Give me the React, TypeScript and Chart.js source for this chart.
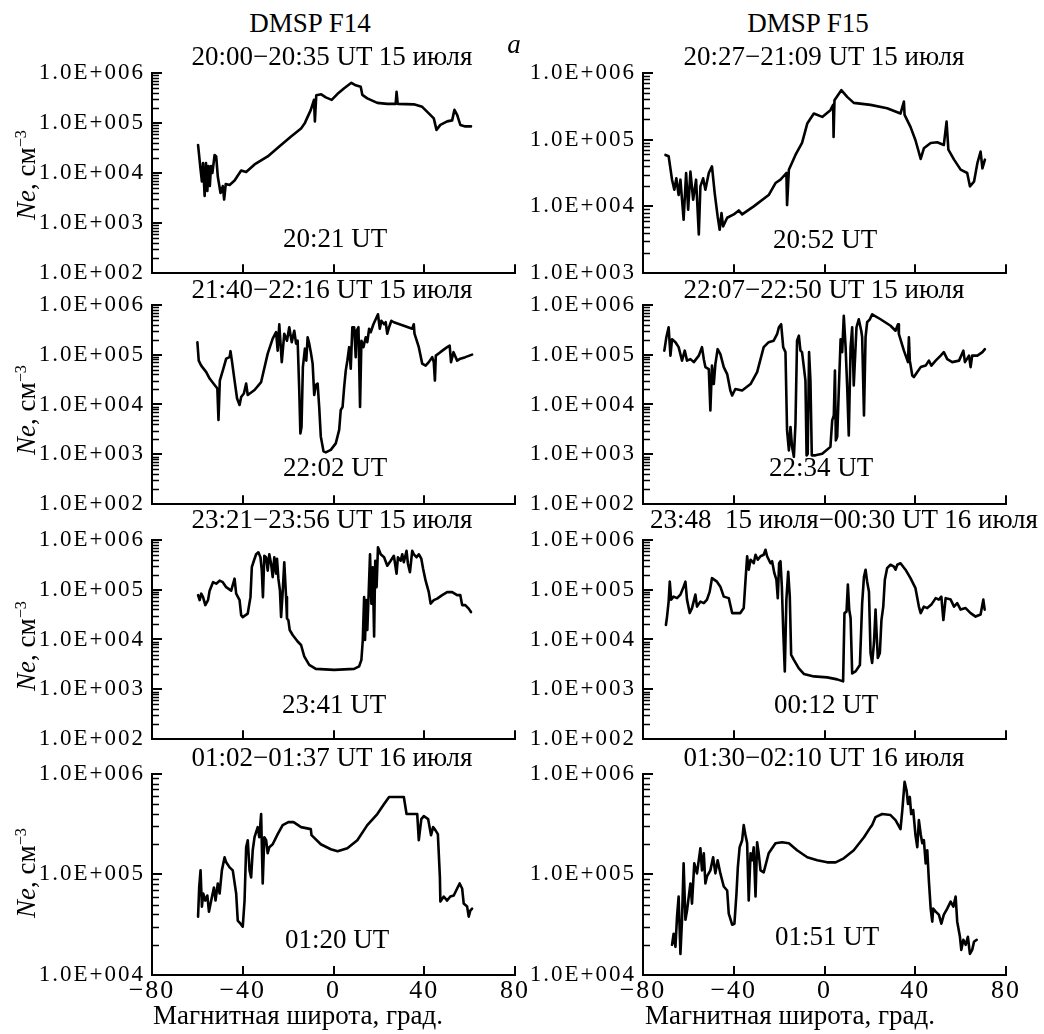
import React, { useEffect, useRef } from 'react';
import { Chart, registerables } from 'chart.js';

Chart.register(...registerables);

const FONT = '"Liberation Serif", "Times New Roman", serif';

// ---------- data: [magnetic latitude (deg), log10(Ne, cm^-3)] ----------
const f14Pass1 = [[-59.7,4.56],[-58.6,4.07],[-58.0,3.83],[-57.5,4.2],[-56.8,3.54],[-56.2,4.2],[-55.6,3.64],[-55.1,4.14],[-54.5,3.74],[-54.0,4.14],[-53.4,4.0],[-52.4,4.36],[-51.7,4.33],[-51.0,3.93],[-49.8,3.6],[-48.8,3.74],[-48.2,3.47],[-47.5,3.78],[-45.8,3.76],[-43.6,3.85],[-40.7,4.05],[-38.5,4.02],[-34.8,4.17],[-29.0,4.33],[-23.9,4.53],[-18.7,4.73],[-14.3,4.89],[-12.6,5.0],[-10.0,5.26],[-8.6,5.46],[-8.2,5.03],[-7.6,5.55],[-5.4,5.57],[-3.4,5.51],[-0.8,5.46],[1.8,5.58],[4.7,5.69],[7.9,5.80],[9.8,5.75],[12.0,5.72],[12.7,5.56],[14.9,5.49],[19.3,5.40],[23.7,5.38],[27.4,5.38],[27.8,5.62],[28.3,5.38],[35.4,5.37],[39.1,5.32],[42.0,5.19],[44.2,5.09],[45.4,4.86],[47.1,4.96],[50.1,5.03],[52.3,5.05],[53.3,5.26],[54.5,5.16],[55.9,4.96],[58.1,4.93],[60.6,4.93]];

const f15Pass1 = [[-70.1,4.77],[-68.7,4.75],[-67.2,4.40],[-66.2,4.25],[-65.3,4.42],[-64.3,4.17],[-63.5,4.40],[-62.1,3.80],[-61.0,4.50],[-60.1,3.95],[-59.1,4.52],[-57.9,4.10],[-56.6,4.40],[-55.4,3.58],[-54.7,4.30],[-53.5,4.42],[-52.5,4.25],[-51.0,4.50],[-49.6,4.60],[-48.4,4.20],[-47.1,3.85],[-46.2,3.65],[-45.4,3.90],[-44.7,3.70],[-42.9,3.83],[-40.0,3.88],[-37.8,3.94],[-36.3,3.88],[-31.2,4.00],[-24.6,4.17],[-21.6,4.35],[-19.4,4.40],[-16.8,4.50],[-16.5,4.02],[-15.7,4.55],[-12.8,4.77],[-9.9,4.95],[-7.6,5.24],[-4.7,5.39],[-1.0,5.34],[2.6,5.44],[3.8,5.52],[4.0,5.04],[4.4,5.59],[7.4,5.74],[10.0,5.64],[12.9,5.55],[20.3,5.52],[27.6,5.47],[33.5,5.39],[35.0,5.57],[35.3,5.37],[37.9,5.19],[40.1,4.99],[42.4,4.71],[43.8,4.87],[46.8,4.95],[49.7,4.96],[52.6,4.92],[53.8,5.27],[54.6,4.85],[57.1,4.70],[60.0,4.55],[62.9,4.50],[64.1,4.30],[65.9,4.37],[67.4,4.65],[68.8,4.82],[69.6,4.57],[70.7,4.70]];

const f14Pass2 = [[-60.0,5.25],[-59.4,4.88],[-58.3,4.78],[-56.1,4.65],[-54.6,4.52],[-52.4,4.39],[-51.2,4.32],[-50.7,3.69],[-50.1,4.48],[-48.8,4.68],[-47.3,4.92],[-45.8,4.95],[-45.4,5.07],[-44.7,4.85],[-43.6,4.48],[-42.5,4.12],[-41.4,3.99],[-40.7,4.15],[-39.5,4.22],[-38.5,4.42],[-37.8,4.19],[-34.8,4.29],[-31.9,4.45],[-29.0,5.02],[-26.8,5.32],[-25.3,5.45],[-24.6,5.08],[-23.9,5.61],[-22.8,4.85],[-21.7,5.42],[-20.5,5.28],[-19.5,5.55],[-18.4,5.25],[-17.3,5.48],[-16.5,5.22],[-15.8,5.28],[-15.1,4.29],[-14.6,3.42],[-14.1,3.55],[-13.5,4.75],[-12.6,5.12],[-12.0,4.88],[-11.4,5.35],[-10.7,5.22],[-10.0,5.05],[-9.2,4.82],[-8.5,4.19],[-7.8,4.39],[-7.0,4.42],[-6.3,3.95],[-5.6,3.36],[-4.4,3.06],[-3.4,3.04],[-1.2,3.09],[1.0,3.22],[2.5,3.49],[3.2,3.89],[4.0,3.95],[4.7,4.35],[5.4,4.68],[6.1,4.88],[6.9,5.15],[7.6,4.72],[8.3,5.55],[9.1,5.55],[9.8,4.95],[10.2,5.48],[11.0,5.55],[11.7,3.95],[12.3,5.28],[13.2,5.15],[14.2,5.35],[14.9,5.25],[15.7,5.52],[16.4,5.45],[17.6,5.61],[18.6,5.71],[19.6,5.81],[20.4,5.52],[21.1,5.68],[22.3,5.61],[23.0,5.65],[23.7,5.42],[24.5,5.55],[25.5,5.68],[26.6,5.65],[31.0,5.58],[34.7,5.52],[35.4,5.61],[35.7,5.42],[37.6,5.15],[39.1,4.82],[40.6,4.78],[42.0,4.85],[43.5,4.95],[44.2,4.85],[44.7,4.48],[45.1,4.98],[47.1,5.05],[50.1,5.15],[51.2,5.18],[51.8,4.85],[52.9,5.05],[54.5,4.88],[55.9,4.92],[58.1,4.95],[61.1,5.0]];

const f15Pass2 = [[-70.6,5.08],[-69.7,5.35],[-68.7,5.55],[-67.9,4.98],[-67.2,5.31],[-65.7,5.25],[-64.3,5.15],[-62.8,4.88],[-61.6,5.08],[-60.6,4.88],[-59.1,4.91],[-57.6,4.85],[-55.4,4.98],[-54.0,5.15],[-53.2,4.91],[-52.5,4.75],[-51.0,4.71],[-50.3,3.88],[-49.6,4.78],[-48.8,4.41],[-48.1,4.81],[-47.1,5.11],[-45.9,5.01],[-44.4,4.75],[-42.9,4.61],[-41.5,4.28],[-40.7,4.18],[-39.3,4.31],[-36.3,4.28],[-32.6,4.41],[-29.7,4.65],[-26.8,5.15],[-24.6,5.25],[-22.4,5.28],[-20.9,5.41],[-20.1,5.55],[-19.1,5.61],[-18.2,5.15],[-17.2,5.05],[-16.5,3.48],[-15.7,3.08],[-15.0,3.55],[-14.3,3.15],[-13.5,2.95],[-12.8,3.61],[-12.1,5.28],[-11.3,5.38],[-10.6,5.08],[-9.9,5.05],[-9.1,4.75],[-8.4,4.48],[-7.9,2.98],[-7.4,3.01],[-6.8,5.05],[-6.2,4.48],[-5.6,2.98],[-4.0,2.98],[-1.0,3.01],[2.6,3.15],[3.4,3.68],[4.1,3.78],[4.6,4.68],[5.0,3.28],[5.6,3.35],[6.3,4.28],[7.1,5.31],[7.8,5.05],[8.5,5.78],[9.3,5.15],[10.0,4.35],[10.7,3.38],[11.5,5.15],[12.2,5.55],[12.9,4.38],[14.1,5.55],[15.1,5.71],[16.2,5.48],[16.6,5.35],[17.4,3.78],[18.1,5.35],[18.8,5.65],[20.0,5.71],[21.0,5.81],[24.7,5.71],[29.1,5.58],[31.3,5.48],[32.4,5.61],[32.8,5.41],[35.0,5.08],[36.8,4.85],[37.2,5.35],[37.6,4.88],[38.7,4.58],[39.4,4.55],[40.9,4.65],[42.4,4.75],[44.6,4.78],[46.0,4.88],[47.1,4.78],[49.0,4.88],[51.2,4.98],[52.6,5.05],[54.1,4.91],[56.3,4.85],[59.3,4.88],[61.2,5.08],[61.9,4.85],[63.7,4.98],[64.4,4.75],[65.1,4.98],[67.4,4.98],[69.6,5.05],[70.7,5.11]];

const f14Pass3 = [[-59.7,4.89],[-59.0,4.79],[-58.3,4.92],[-57.5,4.85],[-56.5,4.69],[-55.3,4.79],[-54.6,4.98],[-53.1,5.15],[-51.7,5.12],[-50.2,5.18],[-48.8,5.15],[-47.3,5.05],[-45.1,4.98],[-43.6,5.22],[-42.9,4.92],[-41.4,4.79],[-40.7,4.49],[-40.0,4.45],[-37.8,4.52],[-36.6,4.85],[-36.0,5.45],[-35.1,5.58],[-34.1,5.71],[-33.1,5.75],[-32.2,5.65],[-31.6,5.38],[-31.1,4.85],[-30.5,5.68],[-29.7,5.65],[-29.0,5.38],[-28.3,5.71],[-27.5,5.52],[-26.8,5.25],[-26.1,5.65],[-25.3,5.32],[-24.9,5.62],[-24.3,5.22],[-23.6,4.98],[-23.1,4.45],[-22.4,4.95],[-21.7,5.55],[-20.9,4.85],[-20.5,4.42],[-19.9,4.39],[-19.3,4.19],[-18.0,4.09],[-15.8,3.96],[-14.3,3.89],[-12.9,3.66],[-10.7,3.49],[-7.8,3.41],[0.3,3.39],[9.1,3.41],[11.3,3.46],[12.3,3.59],[12.9,3.98],[13.5,4.85],[13.9,3.99],[14.5,4.79],[14.9,4.19],[15.5,4.92],[16.1,5.71],[16.7,4.72],[17.3,5.45],[17.9,4.06],[18.4,5.58],[19.0,5.05],[19.6,5.85],[20.8,5.71],[22.3,5.65],[23.7,5.48],[25.2,5.58],[26.6,5.68],[27.8,5.32],[28.4,5.65],[29.6,5.58],[30.3,5.71],[31.0,5.55],[32.2,5.78],[32.8,5.52],[33.7,5.35],[34.7,5.78],[35.4,5.71],[36.6,5.65],[37.6,5.71],[38.7,5.62],[39.5,5.42],[40.6,5.18],[42.0,4.95],[42.8,4.72],[44.2,4.79],[45.7,4.82],[47.9,4.89],[50.1,4.95],[52.3,4.95],[54.5,4.89],[55.9,4.89],[56.7,4.69],[58.1,4.69],[59.6,4.62],[60.6,4.55]];

const f15Pass3 = [[-69.9,4.29],[-69.4,4.46],[-68.7,4.76],[-68.2,5.16],[-67.6,4.80],[-66.5,4.86],[-65.0,4.83],[-63.5,4.90],[-62.1,5.06],[-61.3,5.16],[-60.6,4.80],[-59.4,4.53],[-58.4,4.63],[-56.9,4.90],[-56.2,4.66],[-54.7,4.76],[-53.2,4.73],[-51.8,4.80],[-50.6,4.96],[-49.6,5.23],[-47.4,5.16],[-45.9,5.06],[-44.4,4.86],[-42.2,4.83],[-40.7,4.53],[-39.3,4.53],[-37.1,4.53],[-35.6,4.63],[-34.8,5.20],[-34.1,5.67],[-33.4,5.40],[-32.6,5.60],[-31.2,5.53],[-30.4,5.70],[-29.4,5.60],[-28.2,5.67],[-26.8,5.70],[-26.0,5.80],[-25.3,5.67],[-23.8,5.53],[-23.1,5.57],[-22.1,5.33],[-21.2,5.20],[-20.6,4.83],[-20.0,5.53],[-19.4,5.57],[-18.8,5.06],[-18.2,4.19],[-17.5,3.36],[-16.8,4.80],[-16.0,5.36],[-15.3,4.86],[-14.7,3.69],[-13.5,3.59],[-11.3,3.42],[-9.1,3.31],[-4.7,3.26],[1.2,3.24],[5.6,3.20],[8.2,3.16],[8.8,4.53],[9.7,4.56],[10.3,5.10],[10.9,4.60],[11.5,4.43],[12.2,3.32],[13.7,3.36],[15.6,3.49],[16.6,4.73],[17.4,5.26],[18.1,5.40],[18.8,5.16],[19.6,4.96],[20.3,3.73],[21.0,3.53],[21.8,3.93],[22.5,4.60],[22.9,4.19],[23.5,3.63],[24.4,3.73],[25.1,4.39],[25.9,4.66],[26.6,5.20],[27.6,5.43],[29.1,5.50],[30.6,5.46],[31.3,5.40],[32.1,5.50],[33.5,5.53],[35.7,5.40],[37.9,5.23],[40.1,5.03],[41.6,4.66],[42.4,4.53],[43.8,4.66],[45.3,4.63],[47.1,4.70],[49.0,4.83],[50.4,4.80],[51.5,4.86],[52.4,4.39],[53.4,4.83],[55.6,4.80],[57.1,4.66],[58.5,4.73],[60.0,4.60],[62.2,4.63],[64.4,4.53],[66.6,4.46],[68.8,4.50],[70.0,4.80],[70.6,4.60]];

const f14Pass4 = [[-59.7,4.58],[-59.2,4.87],[-58.6,5.04],[-58.0,4.68],[-57.4,4.81],[-56.5,4.74],[-55.6,4.79],[-54.9,4.63],[-53.9,4.74],[-52.7,4.87],[-52.0,4.74],[-51.0,4.91],[-50.2,4.81],[-49.2,5.04],[-48.0,5.17],[-47.3,5.12],[-45.8,5.07],[-44.4,5.04],[-42.9,4.81],[-42.2,4.54],[-41.0,4.51],[-40.0,4.48],[-39.2,4.74],[-38.5,5.27],[-37.8,5.34],[-37.0,5.04],[-36.3,4.97],[-35.6,5.24],[-34.8,5.37],[-33.4,5.47],[-32.7,5.37],[-31.9,5.60],[-31.2,4.91],[-30.5,5.37],[-29.7,5.34],[-29.0,5.21],[-28.3,5.27],[-26.8,5.30],[-24.6,5.40],[-22.4,5.49],[-19.9,5.52],[-17.6,5.52],[-14.3,5.47],[-10.0,5.45],[-9.7,5.39],[-5.6,5.30],[-1.2,5.25],[1.8,5.23],[6.1,5.26],[10.5,5.34],[14.9,5.49],[19.3,5.60],[22.3,5.70],[24.5,5.77],[27.4,5.77],[31.0,5.77],[32.2,5.60],[36.9,5.60],[37.6,5.34],[38.7,5.55],[39.8,5.58],[41.7,5.55],[43.0,5.39],[43.9,5.47],[44.9,5.44],[46.0,5.40],[46.9,4.97],[47.1,4.73],[48.6,4.78],[50.1,4.74],[51.5,4.78],[53.0,4.79],[54.5,4.86],[55.6,4.91],[56.7,4.86],[57.4,4.71],[58.9,4.68],[59.6,4.58],[60.3,4.64],[61.1,4.66]];

const f15Pass4 = [[-67.2,4.30],[-66.5,4.41],[-65.7,4.28],[-65.0,4.58],[-64.3,4.78],[-63.5,4.21],[-62.8,4.55],[-62.1,5.11],[-61.3,4.55],[-60.6,4.64],[-59.1,4.91],[-58.4,4.71],[-57.4,5.11],[-56.2,5.01],[-54.7,5.26],[-54.0,5.04],[-53.2,5.21],[-52.5,4.91],[-51.8,4.98],[-50.3,5.04],[-49.1,5.17],[-48.1,5.01],[-47.1,5.14],[-45.9,5.01],[-44.4,4.88],[-42.9,4.84],[-42.2,4.61],[-40.7,4.50],[-39.7,4.51],[-38.8,4.81],[-38.2,5.07],[-37.4,5.27],[-36.3,5.34],[-35.6,5.49],[-34.9,5.40],[-34.1,5.31],[-33.4,4.74],[-32.6,5.21],[-31.9,5.14],[-31.2,5.27],[-30.4,4.78],[-29.7,5.32],[-29.0,5.21],[-28.2,5.04],[-26.8,5.02],[-24.6,5.21],[-21.6,5.31],[-18.7,5.32],[-15.7,5.31],[-12.1,5.24],[-7.6,5.17],[-3.2,5.14],[1.2,5.12],[4.9,5.12],[8.5,5.16],[12.9,5.24],[17.4,5.37],[20.3,5.47],[21.0,5.49],[22.5,5.57],[25.4,5.60],[29.1,5.59],[31.3,5.54],[33.5,5.45],[34.3,5.64],[35.3,5.92],[36.2,5.83],[36.8,5.70],[37.6,5.77],[38.2,5.60],[39.1,5.64],[40.1,5.39],[40.9,5.27],[41.6,5.54],[42.4,5.40],[43.1,5.31],[43.8,5.34],[44.6,5.11],[45.3,5.24],[46.0,4.94],[46.8,4.66],[47.5,4.53],[47.9,4.66],[49.0,4.63],[50.4,4.60],[51.5,4.51],[52.6,4.60],[54.1,4.66],[55.6,4.73],[56.8,4.68],[57.8,4.78],[58.5,4.53],[59.7,4.38],[60.3,4.25],[61.2,4.35],[62.2,4.30],[63.2,4.38],[64.1,4.21],[65.1,4.25],[65.9,4.33],[67.1,4.35]];

// axis ranges / ticks
const xTickValues = [-80, -40, 0, 40, 80];
const minorMultipliers = [2, 3, 4, 5, 6, 7, 8, 9];
const yRangeWide = [1e2, 1e6];
const yRangeF15Pass1 = [1e3, 1e6];
const yRangeNarrow = [1e4, 1e6];

// text
const satelliteNames = ['DMSP F14', 'DMSP F15'];
const passTitles = [
  '20:00\u221220:35 UT 15 июля', '20:27\u221221:09 UT 15 июля',
  '21:40\u221222:16 UT 15 июля', '22:07\u221222:50 UT 15 июля',
  '23:21\u221223:56 UT 15 июля', '23:48  15 июля\u221200:30 UT 16 июля',
  '01:02\u221201:37 UT 16 июля', '01:30\u221202:10 UT 16 июля',
];
const crossingTimes = ['20:21 UT', '20:52 UT', '22:02 UT', '22:34 UT', '23:41 UT', '00:12 UT', '01:20 UT', '01:51 UT'];
const xAxisTitle = 'Магнитная широта, град.';
const panelLetter = 'а';

// ---------- layout ----------
const COLS = [{ left: 152, right: 515 }, { left: 643, right: 1006 }];
const ROWS = [{ top: 72, bottom: 274 }, { top: 304, bottom: 505 }, { top: 539, bottom: 740 }, { top: 773, bottom: 975 }];
const Y_AXIS_W = 150;
const PAD_TOP = 20;
const PAD_RIGHT = 28;

const panels = [
  { series: f14Pass1, range: yRangeWide, col: 0, row: 0 },
  { series: f15Pass1, range: yRangeF15Pass1, col: 1, row: 0 },
  { series: f14Pass2, range: yRangeWide, col: 0, row: 1 },
  { series: f15Pass2, range: yRangeWide, col: 1, row: 1 },
  { series: f14Pass3, range: yRangeWide, col: 0, row: 2 },
  { series: f15Pass3, range: yRangeWide, col: 1, row: 2 },
  { series: f14Pass4, range: yRangeNarrow, col: 0, row: 3 },
  { series: f15Pass4, range: yRangeNarrow, col: 1, row: 3 },
];

const titlePos = [[332, 57], [824, 57], [332, 290], [824, 290], [332, 520], [844, 520], [332, 758], [824, 758]];
const timePos = [[335, 239], [825, 240], [335, 468], [821, 468], [334, 705], [826, 705], [337, 940], [827, 937]];
const yTitleCenters = [175, 410, 646, 873];

const fmtExp = (v: number) => {
  const e = Math.round(Math.log10(v));
  return '1.0E+' + String(e).padStart(3, '0');
};
const fmtLat = (v: number) => (v < 0 ? '\u2212' + Math.abs(v) : String(v));

const inwardTicks = {
  id: 'inwardTicks',
  afterDraw(chart: any) {
    const { ctx, chartArea, scales } = chart;
    const xs = scales.x;
    const ys = scales.y;
    ctx.save();
    ctx.strokeStyle = '#000';
    const minE = Math.round(Math.log10(ys.min));
    const maxE = Math.round(Math.log10(ys.max));
    ctx.lineWidth = 2;
    ctx.beginPath();
    for (let e = minE; e <= maxE; e++) {
      const y = Math.round(ys.getPixelForValue(Math.pow(10, e)));
      ctx.moveTo(chartArea.left, y);
      ctx.lineTo(chartArea.left + 10, y);
    }
    ctx.stroke();
    ctx.lineWidth = 1.7;
    ctx.beginPath();
    for (let e = minE; e < maxE; e++) {
      for (const k of minorMultipliers) {
        const y = Math.round(ys.getPixelForValue(k * Math.pow(10, e))) + 0.5;
        ctx.moveTo(chartArea.left, y);
        ctx.lineTo(chartArea.left + 7, y);
      }
    }
    ctx.stroke();
    ctx.lineWidth = 2;
    ctx.beginPath();
    for (const v of xTickValues) {
      if (v === xs.min) continue;
      const x = Math.round(xs.getPixelForValue(v));
      ctx.moveTo(x, chartArea.bottom);
      ctx.lineTo(x, chartArea.bottom - 9);
    }
    ctx.stroke();
    ctx.restore();
  },
};

const spacing = {
  id: 'spacing',
  beforeDraw(chart: any) {
    (chart.ctx as any).letterSpacing = '2px';
  },
};

function Panel({ p }: { p: any }) {
  const ref = useRef<HTMLCanvasElement | null>(null);
  const col = COLS[p.col];
  const row = ROWS[p.row];
  const showX = p.row === 3;
  const padBottom = showX ? 10 : 20;
  const xAxisH = showX ? 40 : 0;
  const left = col.left - Y_AXIS_W;
  const top = row.top - PAD_TOP;
  const width = Y_AXIS_W + (col.right - col.left) + PAD_RIGHT;
  const height = PAD_TOP + (row.bottom - row.top) + xAxisH + padBottom;

  useEffect(() => {
    const canvas = ref.current;
    if (!canvas) return;
    const points = p.series.map((d: number[]) => ({ x: d[0], y: Math.pow(10, d[1]) }));
    const chart = new Chart(canvas, {
      type: 'line',
      data: {
        datasets: [{
          data: points,
          borderColor: '#000',
          borderWidth: 2.6,
          pointRadius: 0,
          borderJoinStyle: 'round',
          borderCapStyle: 'round',
          tension: 0,
          fill: false,
        }],
      },
      options: {
        animation: false,
        responsive: false,
        events: [],
        layout: { padding: { top: PAD_TOP, right: PAD_RIGHT, bottom: padBottom, left: 0 } },
        plugins: { legend: { display: false }, tooltip: { enabled: false }, title: { display: false } },
        scales: {
          x: {
            type: 'linear',
            min: -80,
            max: 80,
            afterBuildTicks: (s: any) => { s.ticks = xTickValues.map((v) => ({ value: v })); },
            afterFit: (s: any) => { s.height = xAxisH; },
            grid: { display: false, drawTicks: false },
            border: { display: true, color: '#000', width: 2 },
            ticks: {
              display: showX,
              autoSkip: false,
              maxRotation: 0,
              padding: 1,
              color: '#000',
              font: { family: FONT, size: 26 },
              callback: (v: any) => fmtLat(Number(v)),
            },
          },
          y: {
            type: 'logarithmic',
            min: p.range[0],
            max: p.range[1],
            afterBuildTicks: (s: any) => {
              const out: any[] = [];
              for (let v = p.range[0]; v <= p.range[1] * 1.0001; v *= 10) out.push({ value: v });
              s.ticks = out;
            },
            afterFit: (s: any) => { s.width = Y_AXIS_W; },
            grid: { display: false, drawTicks: false },
            border: { display: true, color: '#000', width: 2 },
            ticks: {
              autoSkip: false,
              padding: 7,
              color: '#000',
              font: { family: FONT, size: 23 },
              callback: (v: any) => fmtExp(Number(v)),
            },
          },
        },
      } as any,
      plugins: [inwardTicks, spacing],
    });
    return () => chart.destroy();
  }, []);

  return (
    <canvas
      ref={ref}
      width={width}
      height={height}
      style={{ position: 'absolute', left, top, width: width + 'px', height: height + 'px' }}
    />
  );
}

const textBase: React.CSSProperties = {
  position: 'absolute',
  transform: 'translate(-50%, -50%)',
  whiteSpace: 'pre',
  fontFamily: FONT,
  fontSize: 27,
  lineHeight: 1.15,
  color: '#000',
};

function Txt({ x, y, children, style }: { x: number; y: number; children: any; style?: React.CSSProperties }) {
  return <div style={{ ...textBase, left: x, top: y, ...(style || {}) }}>{children}</div>;
}

export default function App() {
  return (
    <div style={{ position: 'absolute', left: 0, top: 0, width: 1044, height: 1034, overflow: 'hidden', background: '#fff' }}>
      {panels.map((p, i) => <Panel key={i} p={p} />)}
      <Txt x={310} y={24}>{satelliteNames[0]}</Txt>
      <Txt x={808} y={24}>{satelliteNames[1]}</Txt>
      <Txt x={514} y={45} style={{ fontStyle: 'italic' }}>{panelLetter}</Txt>
      {passTitles.map((t, i) => <Txt key={'t' + i} x={titlePos[i][0]} y={titlePos[i][1]}>{t}</Txt>)}
      {crossingTimes.map((t, i) => <Txt key={'c' + i} x={timePos[i][0]} y={timePos[i][1]}>{t}</Txt>)}
      {yTitleCenters.map((cy, i) => (
        <Txt key={'y' + i} x={27} y={cy} style={{ transform: 'translate(-50%, -50%) rotate(-90deg)' }}>
          <i>Ne</i>, см<sup style={{ fontSize: '0.6em', verticalAlign: '0.6em', lineHeight: 0 }}>{'\u22123'}</sup>
        </Txt>
      ))}
      <Txt x={298} y={1016}>{xAxisTitle}</Txt>
      <Txt x={790} y={1016}>{xAxisTitle}</Txt>
    </div>
  );
}
